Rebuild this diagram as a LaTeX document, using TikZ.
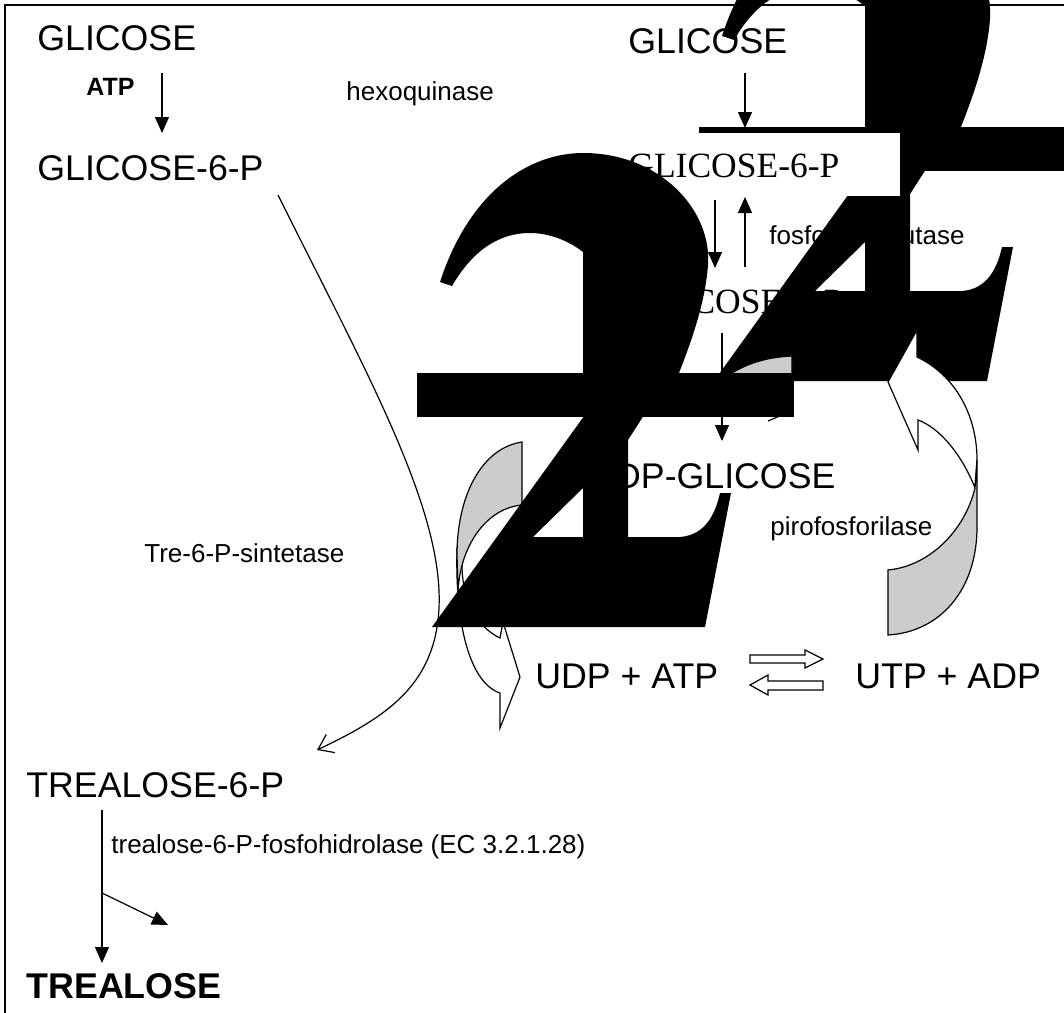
\documentclass[tikz,border=0pt]{standalone}
\usepackage{fontspec}
\setmainfont{Liberation Sans}
\newfontfamily\serifa{Liberation Serif}
\usetikzlibrary{arrows.meta}
\usetikzlibrary{positioning}
\NewDocumentCommand{\glifo}{%
    O{0,0}  % deslocamento
    }{%
    \begin{scope}[shift={(#1)}]
    \fill (440,282) .. controls (470,190) and (530,153) .. (583,153)
        .. controls (660,153) and (712,210) .. (708,265)
        .. controls (705,305) and (690,345) .. (677,378) --(583,378) --(583,252)
        .. controls (565,238) and (545,233) .. (530,233)
        .. controls (495,233) and (470,255) .. (452,286) --cycle;
    \fill (417,373) rectangle (794,417);
    \fill[even odd rule] (432,627) --(587,412) --(646,412) --(628,440) --(628,537) --(680,537)
        .. controls (705,535) and (715,515) .. (720,493) --(731,493) --(705,627) --cycle
        (533,537) --(583,537) --(583,488) --cycle;
    \end{scope}
}

\begin{document}
\begin{tikzpicture}[x=0.5pt,y=-0.5pt,
    grande/.style={font=\fontsize{17.85}{20}\selectfont, inner sep=0pt, anchor=base west},
    rotulo/.style={font=\fontsize{13}{15}\selectfont, inner sep=0pt, anchor=base west},
    serifada/.style={font=\serifa\fontsize{17.75}{20}\selectfont, inner sep=0pt, anchor=base west},
    seta/.style={line width=0.6pt, -{Triangle[length=8pt,width=7pt]}},
    aberta/.style={line width=0.6pt, -{Straight Barb[length=7pt,width=10pt]}},
    bloco/.style={draw=black, line width=0.6pt, fill=white},
    cinza/.style={bloco, fill=black!20}]
    \useasboundingbox (0,0) rectangle (1064,1012);
    \clip (0,0) rectangle (1064,1012);
    \draw[line width=1pt] (5,1020) --(5,5) --(1070,5);

    \node[grande] (glcA) at (37,50) {GLICOSE};
    \node[rotulo, font=\bfseries\fontsize{12.5}{14}\selectfont] (atp) at (86,95) {ATP};
    \node[rotulo] (hexo) at (346,100) {hexoquinase};
    \node[grande] (g6pA) at (37,180) {GLICOSE-6-P};
    \node[grande] (glcB) at (628,53) {GLICOSE};
    \node[rotulo] (fosfo) at (769,244) {fosfoglicomutase};
    \node[serifada] (g1p) at (632,313) {GLICOSE-1-P};
    \node[grande] (udpg) at (589,488) {UDP-GLICOSE};
    \node[rotulo] (piro) at (770,535) {pirofosforilase};
    \node[rotulo] (sint) at (144,562) {Tre-6-P-sintetase};
    \node[grande] (udpatp) at (535,688) {UDP + ATP};
    \node[grande] (utpadp) at (855,688) {UTP + ADP};
    \node[grande] (t6p) at (26,797) {TREALOSE-6-P};
    \node[rotulo] (hidro) at (111,853) {trealose-6-P-fosfohidrolase (EC 3.2.1.28)};
    \node[grande, font=\bfseries\fontsize{17.9}{20}\selectfont] (trea) at (26,998) {TREALOSE};

    \coordinate (hxA) at (162,73);
    \coordinate (hxB) at (162,133);
    \coordinate (glcC) at (745,73);
    \coordinate (glcD) at (745,128);
    \coordinate (mutA) at (715,200);
    \coordinate (mutB) at (715,268);
    \coordinate (mutC) at (745,267);
    \coordinate (mutD) at (745,197);
    \coordinate (uglA) at (722,333);
    \coordinate (uglB) at (722,441);
    \coordinate (treA) at (102,810);
    \coordinate (treB) at (102,963);
    \coordinate (treC) at (102,893);
    \coordinate (treD) at (168,925);
    \coordinate (curA) at (278,195);
    \coordinate (curB) at (317,750);
    \draw[seta] (hxA) --(hxB);
    \draw[seta] (glcC) --(glcD);
    \draw[seta] (mutA) --(mutB);
    \draw[seta] (mutC) --(mutD);
    \draw[seta] (uglA) --(uglB);
    \draw[seta] (treA) --(treB);
    \draw[seta] (treC) --(treD);
    \draw[aberta] (curA) .. controls (370,380) and (450,520) .. (438,620)
        .. controls (430,690) and (380,720) .. (curB);

    % setas de equilibrio
    \draw[bloco] (750,655) --(805,655) --(805,650) --(823,659) --(805,668) --(805,663) --(750,663) --cycle;
    \draw[bloco] (823,681) --(768,681) --(768,675) --(750,685) --(768,695) --(768,690) --(823,690) --cycle;

    % setas curvas da esquerda
    \draw[bloco] (457,550) .. controls (455,625) and (470,683) .. (500,693) --(500,728) --(520,677)
        --(503,622) --(500,638) .. controls (477,627) and (462,600) .. (462,565) --cycle;
    \draw[cinza] (522,442) .. controls (482,448) and (457,495) .. (457,555) --(458,592)
        .. controls (460,545) and (487,508) .. (522,505) --cycle;

    \glifo[282,-246]

    \fill[white] (620,133) rectangle (900,196);
    \node[serifada] (g6pB) at (628,177) {GLICOSE-6-P};

    % setas curvas da direita
    \draw[bloco] (888,382) --(917,330) --(917,357) .. controls (955,375) and (977,415) .. (977,460)
        --(975,488) .. controls (962,455) and (940,428) .. (918,420) --(918,450) --cycle;
    \draw[cinza] (888,570) .. controls (930,566) and (965,530) .. (975,488) --(977,460) --(977,527)
        .. controls (977,590) and (940,632) .. (888,635) --cycle;
    \draw[cinza] (722,380) .. controls (745,362) and (770,357) .. (792,356) --(792,380) --cycle;
    \draw[line width=0.6pt] (768,421) --(782,415);

    \glifo
\end{tikzpicture}
\end{document}
